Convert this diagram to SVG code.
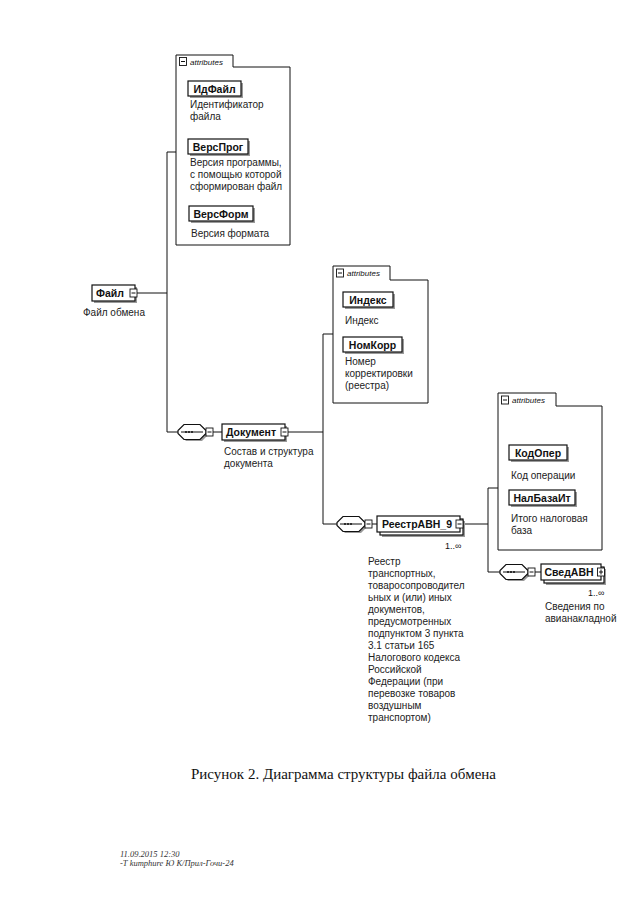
<svg xmlns="http://www.w3.org/2000/svg" width="640" height="905" viewBox="0 0 640 905">
<defs>
<style>
.bg{fill:#fff}
.box{fill:#fff;stroke:#111;stroke-width:1.2}
.shadow{fill:#9a9a9a}
.attr{fill:#fff;stroke:#111;stroke-width:1}
.ln{fill:none;stroke:#111;stroke-width:1}
.lbl{font-family:"Liberation Sans",Arial,sans-serif;font-weight:bold;font-size:10.5px;fill:#111;text-anchor:middle}
.desc{font-family:"Liberation Sans",Arial,sans-serif;font-size:10px;fill:#222}
.tab{font-family:"Liberation Sans",Arial,sans-serif;font-style:italic;font-size:8px;fill:#111}
.occ{font-family:"Liberation Sans",Arial,sans-serif;font-size:9px;fill:#111}
.sq{fill:#fff;stroke:#111;stroke-width:0.9}
.cap{font-family:"Liberation Serif","Times New Roman",serif;font-size:15px;fill:#111}
.foot{font-family:"Liberation Serif","Times New Roman",serif;font-style:italic;font-size:8.5px;fill:#333}
</style>
<g id="minus">
<rect class="sq" x="-3.5" y="-4" width="7" height="8"/>
<line class="ln" x1="-2" y1="0" x2="2" y2="0"/>
</g>
<g id="plus">
<rect class="sq" x="-3.5" y="-4" width="7" height="8"/>
<line class="ln" x1="-2" y1="0" x2="2" y2="0"/>
<line class="ln" x1="0" y1="-2.5" x2="0" y2="2.5"/>
</g>
<g id="seq">
<path class="shadow" d="M8,-6 H24 L30,0 V3 L24,9 H8 L2,3 V0 Z"/>
<path class="box" d="M6,-7.5 H22 L28,-1.5 V1.5 L22,7.5 H6 L0,1.5 V-1.5 Z"/>
<circle cx="8" cy="0" r="1" fill="#111"/>
<circle cx="11" cy="0" r="1" fill="#111"/>
<circle cx="14" cy="0" r="1" fill="#111"/>
<line class="ln" x1="3" y1="0" x2="25" y2="0"/>
<use href="#minus" x="31.5" y="0"/>
</g>
</defs>
<rect class="bg" x="0" y="0" width="640" height="905"/>

<g id="connectors">
<polyline class="ln" points="137,293 167,293"/>
<polyline class="ln" points="176,152 167,152 167,432 178,432"/>
<polyline class="ln" points="213,432 222,432"/>
<polyline class="ln" points="288,432 323,432"/>
<polyline class="ln" points="333,334 323,334 323,524 337,524"/>
<polyline class="ln" points="372,524 377,524"/>
<polyline class="ln" points="463,524 488,524"/>
<polyline class="ln" points="498,488 488,488 488,572 500,572"/>
<polyline class="ln" points="535,572 541,572"/>
</g>

<g id="attrs1">
<path class="attr" d="M176,55 H233 V67 H290 V245 H176 Z"/>
<use href="#minus" x="183" y="61.5"/>
<text class="tab" x="190" y="64.5">attributes</text>
</g>
<g id="idfile">
<rect class="shadow" x="190" y="83" width="53" height="15"/>
<rect class="box" x="188" y="81" width="53" height="15"/>
<text class="lbl" x="214.5" y="92.5">ИдФайл</text>
<text class="desc" x="190" y="108">Идентификатор</text>
<text class="desc" x="190" y="120">файла</text>
</g>
<g id="versprog">
<rect class="shadow" x="190" y="141" width="60" height="15"/>
<rect class="box" x="188" y="139" width="60" height="15"/>
<text class="lbl" x="218" y="150.5">ВерсПрог</text>
<text class="desc" x="190" y="166">Версия программы,</text>
<text class="desc" x="190" y="178">с помощью которой</text>
<text class="desc" x="190" y="190">сформирован файл</text>
</g>
<g id="versform">
<rect class="shadow" x="191" y="208" width="64" height="15"/>
<rect class="box" x="189" y="206" width="64" height="15"/>
<text class="lbl" x="221" y="217.5">ВерсФорм</text>
<text class="desc" x="191" y="237">Версия формата</text>
</g>

<g id="file">
<rect class="shadow" x="94" y="287" width="43" height="16"/>
<rect class="box" x="92" y="285" width="43" height="16"/>
<text class="lbl" x="110" y="297">Файл</text>
<use href="#minus" x="133.5" y="293"/>
<text class="desc" x="83" y="316">Файл обмена</text>
</g>

<g id="seq1"><use href="#seq" x="178" y="432"/></g>
<g id="document">
<rect class="shadow" x="224" y="426" width="63" height="16"/>
<rect class="box" x="222" y="424" width="63" height="16"/>
<text class="lbl" x="251" y="436">Документ</text>
<use href="#minus" x="284.5" y="432"/>
<text class="desc" x="224" y="455">Состав и структура</text>
<text class="desc" x="224" y="467">документа</text>
</g>

<g id="attrs2">
<path class="attr" d="M333,266 H390 V280 H428 V403 H333 Z"/>
<use href="#minus" x="340" y="273"/>
<text class="tab" x="347" y="276">attributes</text>
</g>
<g id="index">
<rect class="shadow" x="345" y="294" width="50" height="15"/>
<rect class="box" x="343" y="292" width="50" height="15"/>
<text class="lbl" x="368" y="303.5">Индекс</text>
<text class="desc" x="345" y="324">Индекс</text>
</g>
<g id="nomkorr">
<rect class="shadow" x="345" y="339" width="59" height="15"/>
<rect class="box" x="343" y="337" width="59" height="15"/>
<text class="lbl" x="372.5" y="348.5">НомКорр</text>
<text class="desc" x="345" y="365">Номер</text>
<text class="desc" x="345" y="377">корректировки</text>
<text class="desc" x="345" y="389">(реестра)</text>
</g>

<g id="seq2"><use href="#seq" x="337" y="524"/></g>
<g id="reestr">
<rect class="shadow" x="382" y="521" width="83" height="16"/>
<rect class="box" x="380" y="519" width="83" height="16"/>
<rect class="box" x="377" y="516" width="83" height="16"/>
<text class="lbl" x="417" y="528">РеестрАВН_9</text>
<use href="#minus" x="459.5" y="524"/>
<text class="occ" x="445" y="549">1..∞</text>
<text class="desc" x="368" y="565">Реестр</text>
<text class="desc" x="368" y="577">транспортных,</text>
<text class="desc" x="368" y="589">товаросопроводител</text>
<text class="desc" x="368" y="601">ьных и (или) иных</text>
<text class="desc" x="368" y="613">документов,</text>
<text class="desc" x="368" y="625">предусмотренных</text>
<text class="desc" x="368" y="637">подпунктом 3 пункта</text>
<text class="desc" x="368" y="649">3.1 статьи 165</text>
<text class="desc" x="368" y="661">Налогового кодекса</text>
<text class="desc" x="368" y="673">Российской</text>
<text class="desc" x="368" y="685">Федерации (при</text>
<text class="desc" x="368" y="697">перевозке товаров</text>
<text class="desc" x="368" y="709">воздушным</text>
<text class="desc" x="368" y="721">транспортом)</text>
</g>

<g id="attrs3">
<path class="attr" d="M498,393 H556 V406 H602 V550 H498 Z"/>
<use href="#minus" x="505" y="400"/>
<text class="tab" x="512" y="403">attributes</text>
</g>
<g id="kodoper">
<rect class="shadow" x="511" y="447" width="58" height="15"/>
<rect class="box" x="509" y="445" width="58" height="15"/>
<text class="lbl" x="538" y="456.5">КодОпер</text>
<text class="desc" x="511" y="479">Код операции</text>
</g>
<g id="nalbaza">
<rect class="shadow" x="511" y="492" width="66" height="15"/>
<rect class="box" x="509" y="490" width="66" height="15"/>
<text class="lbl" x="542" y="501.5">НалБазаИт</text>
<text class="desc" x="511" y="522">Итого налоговая</text>
<text class="desc" x="511" y="534">база</text>
</g>

<g id="seq3"><use href="#seq" x="500" y="572"/></g>
<g id="svedavn">
<rect class="shadow" x="546" y="569" width="60" height="16"/>
<rect class="box" x="544" y="567" width="60" height="16"/>
<rect class="box" x="541" y="564" width="60" height="16"/>
<text class="lbl" x="569" y="576">СведАВН</text>
<use href="#plus" x="601" y="572"/>
<text class="occ" x="588" y="596">1..∞</text>
<text class="desc" x="545" y="610">Сведения по</text>
<text class="desc" x="545" y="622">авианакладной</text>
</g>

<g id="caption">
<text class="cap" x="191" y="779">Рисунок 2. Диаграмма структуры файла обмена</text>
</g>
<g id="footer">
<text class="foot" x="120" y="857">11.09.2015 12:30</text>
<text class="foot" x="120" y="866">-Т kumphure Ю К/Прил-Гочи-24</text>
</g>
</svg>
